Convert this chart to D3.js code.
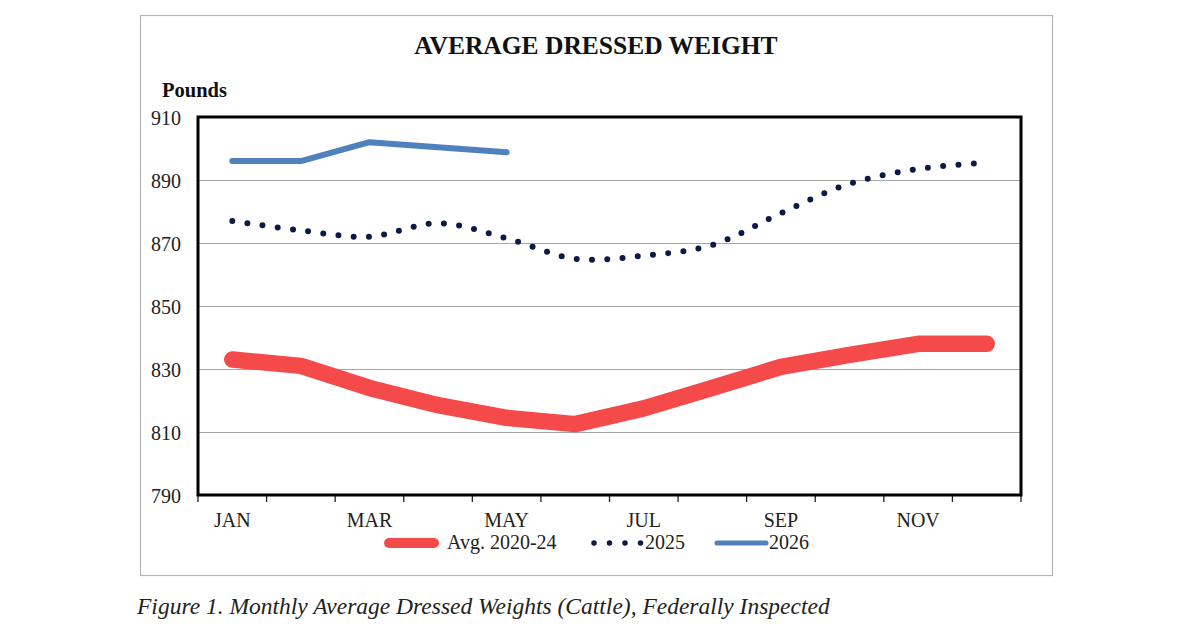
<!DOCTYPE html>
<html><head><meta charset="utf-8">
<script src="https://cdn.jsdelivr.net/npm/d3@7"></script>
<style>
html,body{margin:0;padding:0;background:#fff;}
svg{display:block;font-family:"Liberation Serif","Times New Roman",serif;}
</style></head>
<body><svg id="c" width="1200" height="630"></svg>
<script>
const months = ["JAN","FEB","MAR","APR","MAY","JUN","JUL","AUG","SEP","OCT","NOV","DEC"];
const labeledMonths = ["JAN","MAR","MAY","JUL","SEP","NOV"];
const yTicks = [790,810,830,850,870,890,910];
const avg2020_24 = [833,831,824,818.5,814.5,812.5,817.5,824,830.7,834.5,838,838];
const y2025 = [877,874,872,876.3,871.5,865,866,869.4,879.5,888.8,893.5,895.5];
const y2026 = [896,896,902,900.4,898.8];
const seriesNames = ["Avg. 2020-24","2025","2026"];

const svg = d3.select("#c");
// outer frame
svg.append("rect").attr("x",140.5).attr("y",15.5).attr("width",912).attr("height",560)
  .attr("fill","none").attr("stroke","#b5b5b5").attr("stroke-width",1.2);

const L=198, R=1021, T=117, B=495;
const x = d3.scaleBand().domain(months).range([L,R]);
const y = d3.scaleLinear().domain([790,910]).range([B,T]);
const cx = m => x(m)+x.bandwidth()/2;

// title
svg.append("text").attr("x",596).attr("y",54).attr("text-anchor","middle")
  .attr("font-size",25.5).attr("font-weight","bold").attr("fill","#111").text("AVERAGE DRESSED WEIGHT");
svg.append("text").attr("x",162).attr("y",97).attr("font-size",20.5).attr("font-weight","bold")
  .attr("fill","#111").text("Pounds");

// gridlines
const grid = svg.append("g").attr("transform",`translate(${L},0)`)
  .call(d3.axisLeft(y).tickValues(yTicks.filter(v=>v>790&&v<910)).tickSize(-(R-L)).tickFormat(""));
grid.select(".domain").remove();
grid.selectAll("line").attr("stroke","#a6a6a6").attr("stroke-width",1.2);

// y labels
const ya = svg.append("g").attr("transform",`translate(${L},0)`)
  .call(d3.axisLeft(y).tickValues(yTicks).tickSize(0).tickPadding(17));
ya.select(".domain").remove();
ya.selectAll("text").attr("font-family","Liberation Serif, serif").attr("font-size",20).attr("fill","#222").attr("dy","0.35em");

// x ticks at band boundaries
const bounds = months.map(m=>x(m)).concat([R]);
svg.append("g").selectAll("line").data(bounds).join("line")
  .attr("x1",d=>d).attr("x2",d=>d).attr("y1",B).attr("y2",B+7)
  .attr("stroke","#222").attr("stroke-width",1.3);
// x labels
const xa = svg.append("g").attr("transform",`translate(0,${B})`)
  .call(d3.axisBottom(x).tickValues(labeledMonths).tickSize(0).tickPadding(18));
xa.select(".domain").remove();
xa.selectAll("text").attr("font-family","Liberation Serif, serif").attr("font-size",20).attr("fill","#222");

// lines
const lineLin = d3.line().x((d,i)=>cx(months[i])).y(d=>y(d));
const lineSmooth = d3.line().x((d,i)=>cx(months[i])).y(d=>y(d)).curve(d3.curveCatmullRom.alpha(0.5));

svg.append("path").datum(avg2020_24).attr("d",lineLin).attr("fill","none")
  .attr("stroke","#f44a4a").attr("stroke-width",16.5).attr("stroke-linecap","round").attr("stroke-linejoin","round");
svg.append("path").datum(y2025).attr("d",lineSmooth).attr("fill","none")
  .attr("stroke","#0c1a48").attr("stroke-width",6).attr("stroke-linecap","round").attr("stroke-dasharray","0 15.3");
svg.append("path").datum(y2026).attr("d",lineLin).attr("fill","none")
  .attr("stroke","#4f81bd").attr("stroke-width",6).attr("stroke-linecap","round").attr("stroke-linejoin","round");

// plot border
svg.append("rect").attr("x",L).attr("y",T).attr("width",R-L).attr("height",B-T)
  .attr("fill","none").attr("stroke","#000").attr("stroke-width",3);

// legend
const lg = svg.append("g");
const ly = 543;
lg.append("line").attr("x1",389).attr("x2",434).attr("y1",ly).attr("y2",ly)
  .attr("stroke","#f44a4a").attr("stroke-width",10).attr("stroke-linecap","round");
lg.append("text").attr("x",447).attr("y",ly+6).attr("font-size",20).attr("fill","#222").text(seriesNames[0]);
lg.append("line").attr("x1",594).attr("x2",642).attr("y1",ly).attr("y2",ly)
  .attr("stroke","#0c1a48").attr("stroke-width",5.5).attr("stroke-linecap","round").attr("stroke-dasharray","0 15.5");
lg.append("text").attr("x",645).attr("y",ly+6).attr("font-size",20).attr("fill","#222").text(seriesNames[1]);
lg.append("line").attr("x1",717).attr("x2",766).attr("y1",ly).attr("y2",ly)
  .attr("stroke","#4f81bd").attr("stroke-width",5).attr("stroke-linecap","round");
lg.append("text").attr("x",769).attr("y",ly+6).attr("font-size",20).attr("fill","#222").text(seriesNames[2]);

// caption
svg.append("text").attr("x",137).attr("y",614).attr("font-size",23.5).attr("font-style","italic")
  .attr("fill","#222").text("Figure 1. Monthly Average Dressed Weights (Cattle), Federally Inspected");
</script></body></html>
